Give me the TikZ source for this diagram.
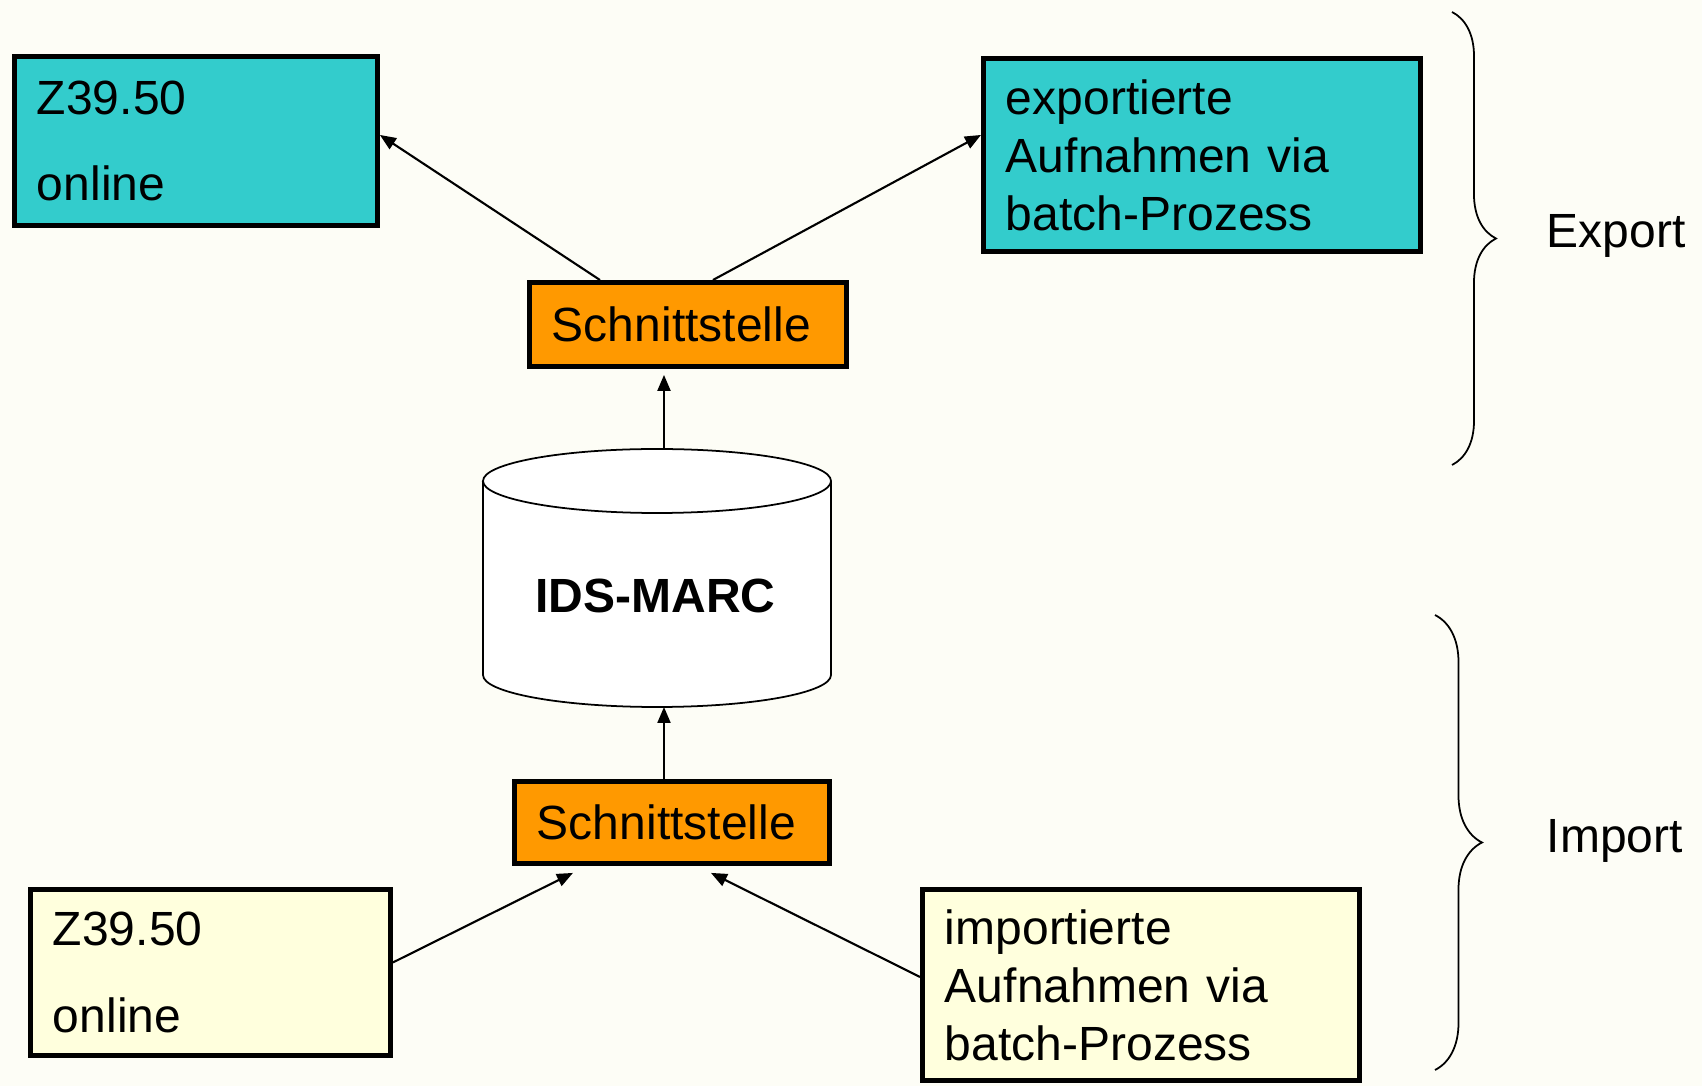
\documentclass[tikz,border=0pt]{standalone}
\usepackage{fontspec}
\setmainfont{Liberation Sans}
\usepackage{xcolor}
\usetikzlibrary{arrows.meta, decorations.pathreplacing, calc}
\definecolor{bgcream}{HTML}{FDFDF6}
\definecolor{exportteal}{HTML}{33CCCC}
\definecolor{schnittorange}{HTML}{FF9900}
\definecolor{importyellow}{HTML}{FFFFDD}
\newcommand{\diagfont}{\fontsize{13.66pt}{16.5pt}\selectfont}
\tikzset{every node/.style={font=\diagfont},
basebox/.style={draw=black, line width=1.4pt, anchor=north west, inner ysep=0pt, align=left, inner xsep=0.2cm},
infobox/.style={basebox},
schnittbox/.style={basebox, fill=schnittorange},
arr/.style={-{Triangle[length=0.16cm,width=0.13cm]}, line width=0.6pt},
bracket/.style={decorate, decoration={brace, amplitude=#1}, line width=0.5pt}}

\begin{document}
\begin{tikzpicture}
 %Background and frame
 \fill[bgcream] (0,0) rectangle (17.02,-10.86);
 \useasboundingbox (0,0) rectangle (17.02,-10.86);

 %Export side
 \node[infobox, fill=exportteal, minimum width=3.63cm, minimum height=1.69cm, text width=3.18cm] (z39oben) at (0.12,-0.54) {Z39.50\\[8pt]online};
 \node[infobox, fill=exportteal, minimum width=4.37cm, minimum height=1.93cm, text width=3.92cm] (exportbox) at (9.81,-0.56) {exportierte\\Aufnahmen via\\batch-Prozess};
 \node[schnittbox, minimum width=3.17cm, minimum height=0.84cm, text width=2.72cm] (schnittoben) at (5.27,-2.80) {Schnittstelle};

 %Database cylinder
 \draw[line width=0.5pt, fill=white] (4.83,-4.81) -- (4.83,-6.75) arc[start angle=180, end angle=360, x radius=1.74cm, y radius=0.32cm] -- (8.31,-4.81) arc[start angle=0, end angle=180, x radius=1.74cm, y radius=0.32cm] -- cycle;
 \draw[line width=0.5pt] (4.83,-4.81) arc[start angle=180, end angle=360, x radius=1.74cm, y radius=0.32cm];
 \node[font=\diagfont\bfseries] (marclabel) at (6.555,-5.96) {IDS-MARC};
 \coordinate (marctop) at (6.64,-4.49);
 \coordinate (marcbottom) at (6.64,-7.07);

 %Import side
 \node[schnittbox, minimum width=3.15cm, minimum height=0.82cm, text width=2.70cm] (schnittunten) at (5.12,-7.79) {Schnittstelle};
 \node[infobox, fill=importyellow, minimum width=3.60cm, minimum height=1.66cm, text width=3.15cm] (z39unten) at (0.28,-8.87) {Z39.50\\[8pt]online};
 \node[infobox, fill=importyellow, minimum width=4.37cm, minimum height=1.91cm, text width=3.92cm] (importbox) at (9.20,-8.87) {importierte\\Aufnahmen via\\batch-Prozess};

 %Arrows
 \draw[arr] (marctop) -- ([yshift=-0.06cm]marctop |- schnittoben.south);
 \draw[arr] ([xshift=-0.88cm]schnittoben.north) -- ([yshift=0.06cm]z39oben.east);
 \draw[arr] ([xshift=0.25cm]schnittoben.north) -- ([yshift=0.2cm]exportbox.west);
 \draw[arr] (marcbottom |- schnittunten.north) -- (marcbottom);
 \draw[arr] ([yshift=0.1cm]z39unten.east) -- ([xshift=-0.99cm,yshift=-0.07cm]schnittunten.south);
 \draw[arr] ([yshift=0.08cm]importbox.west) -- ([xshift=0.39cm,yshift=-0.07cm]schnittunten.south);

 %Braces and labels
 \draw[bracket=0.44cm] (14.52,-0.12) -- (14.52,-4.65);
 \node[anchor=west, inner sep=0pt] (exportlabel) at (15.46,-2.36) {Export};
 \draw[bracket=0.47cm] (14.35,-6.15) -- (14.35,-10.70);
 \node[anchor=west, inner sep=0pt] (importlabel) at (15.46,-8.41) {Import};
\end{tikzpicture}
\end{document}
